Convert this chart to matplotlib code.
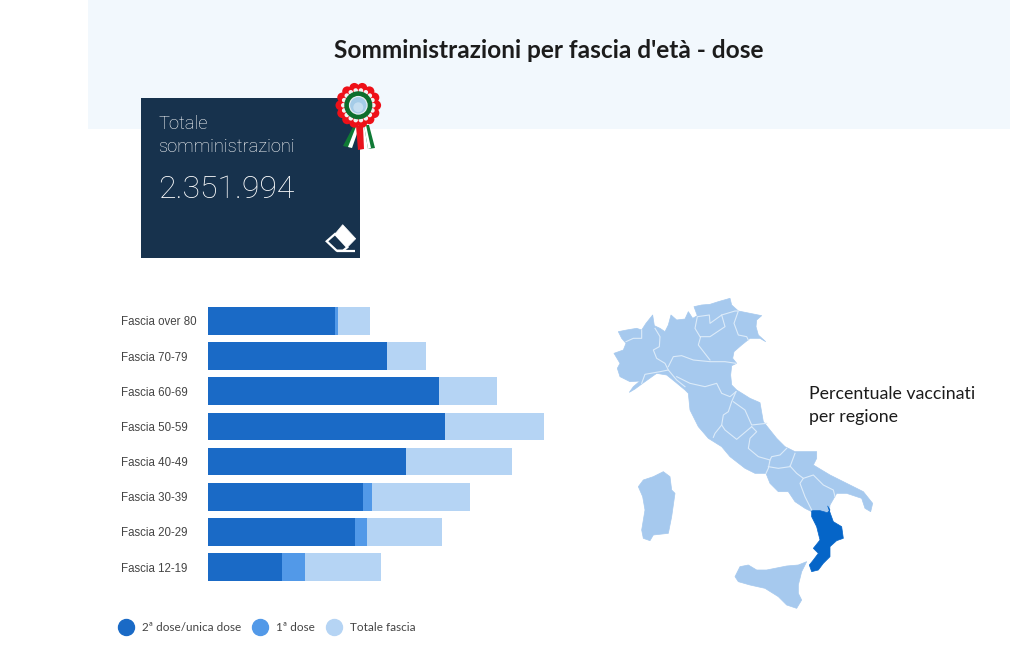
import matplotlib
matplotlib.use("Agg")
import matplotlib.pyplot as plt
import numpy as np
from matplotlib.lines import Line2D
from matplotlib.patches import Circle, Polygon, Rectangle

W, H = 1024, 664

fasce = ['Fascia over 80', 'Fascia 70-79', 'Fascia 60-69', 'Fascia 50-59',
         'Fascia 40-49', 'Fascia 30-39', 'Fascia 20-29', 'Fascia 12-19']
# bar lengths
dose2 = [127, 179, 230.5, 236.5, 198, 155, 147, 74]
dose1 = [3, 0, 0.5, 0.5, 0, 9, 11.5, 23]
totale = [162, 217.5, 289, 336, 304, 261.5, 233.5, 172.5]

legend_labels = ['2ª dose/unica dose', '1ª dose', 'Totale fascia']
titolo = "Somministrazioni per fascia d'età - dose"
card_label = 'Totale\nsomministrazioni'
card_value = '2.351.994'
map_label = 'Percentuale vaccinati\nper regione'

c_dark = '#1a6ac6'
c_mid = '#5299e8'
c_light = '#b5d4f4'
c_map = '#a6c9ee'
c_cal = '#0565c8'
c_card = '#17324d'
c_band = '#f2f8fd'
txt = '#1c1c1c'

# outlines, in crop coordinates
italia = [(55,125),(80,120),(110,115),(125,120),(138,100),(150,85),(158,75),(163,107),(180,115),(195,125),
          (205,105),(213,75),(230,90),(255,87),(265,65),(278,85),(292,77),(282,50),(305,45),(330,43),(355,35),
          (390,25),(395,45),(415,63),(450,70),(485,77),(470,90),(468,110),(475,135),(497,155),(480,145),
          (450,145),(425,165),(402,185),(398,205),(410,220),(395,227),(392,255),(395,285),(410,300),(450,325),
          (480,338),(490,395),(530,445),(555,470),(585,485),(650,485),(650,505),(640,525),(690,555),(750,585),
          (790,605),(818,640),(812,665),(795,655),(785,625),(740,610),(710,610),(690,645),(688,665),(635,665),
          (615,655),(585,635),(565,605),(535,605),(510,580),(498,550),(465,550),(435,535),(390,500),(365,470),
          (325,445),(295,410),(270,360),(265,310),(255,300),(225,275),(200,255),(170,250),(128,280),(105,297),
          (88,307),(100,290),(120,273),(90,275),(60,260),(52,235),(60,220),(42,190),(70,180),(78,160),(65,145)]
calabria = [(683,648),(690,660),(682,668),(660,662),(635,662),(635,680),(650,710),(660,750),(640,775),(655,790),
            (640,810),(628,825),(635,845),(655,840),(670,820),(690,800),(690,770),(710,752),(730,745),(725,710),
            (700,695)]
sicilia = [(405,860),(420,830),(445,825),(470,840),(500,840),(560,828),(595,825),(620,815),(605,845),(595,885),
           (595,910),(605,930),(590,955),(560,945),(535,920),(495,895),(450,885),(415,875)]
sardegna = [(115,590),(130,570),(160,560),(190,545),(210,560),(215,600),(225,610),(215,680),(205,730),(160,735),
            (150,752),(130,745),(125,720),(135,660),(128,620)]
confini = [
    [(78,155),(100,145),(125,145),(125,120)],
    [(165,115),(180,140),(178,170),(160,180),(170,205),(195,220),(205,240)],
    [(205,230),(220,200),(245,197),(280,210),(330,215),(375,215),(408,220)],
    [(125,280),(135,253),(180,245),(205,240),(230,270),(255,290)],
    [(230,260),(270,280),(315,290),(350,280),(365,310),(390,320),(408,305)],
    [(330,210),(295,165),(302,140),(330,140),(375,110),(365,75),(330,100),(328,75),(292,80),(285,115),(300,140)],
    [(365,75),(405,63),(415,63),(402,100),(415,135),(440,140),(445,150)],
    [(400,335),(435,360),(455,405),(500,400)],
    [(408,305),(395,335),(385,365),(370,375),(365,405),(375,420),(410,448),(455,410)],
    [(365,405),(345,430),(340,442)],
    [(455,410),(470,425),(450,445),(445,475),(475,500),(510,510),(505,535),(498,550)],
    [(560,475),(540,495),(515,500),(510,510)],
    [(505,530),(535,535),(570,530),(585,490)],
    [(570,528),(590,550),(610,565),(600,580),(615,620),(635,660)],
    [(610,565),(640,555),(670,585),(700,600),(705,620)],
]

fig = plt.figure(figsize=(W / 100, H / 100), dpi=100, facecolor='white')

def px_axes(x0, y0, x1, y1):
    return fig.add_axes([x0 / W, 1 - y1 / H, (x1 - x0) / W, (y1 - y0) / H])

# page layer, coordinates are pixels
bg = px_axes(0, 0, W, H)
bg.set_xlim(0, W)
bg.set_ylim(H, 0)
bg.axis('off')
bg.add_patch(Rectangle((88, 0), 922, 128.5, fc=c_band, ec='none'))
bg.add_patch(Rectangle((140.5, 98), 219, 160, fc=c_card, ec='none'))

bg.text(548.5, 50, titolo, ha='center', va='center', fontsize=17.6, fontweight='bold',
        family=['Lato', 'DejaVu Sans'], color=txt)
bg.text(158.5, 135.5, card_label, ha='left', va='center', fontsize=13.2, color='white',
        family=['Roboto', 'DejaVu Sans'], fontweight='light', linespacing=1.3)
bg.text(158.5, 190, card_value, ha='left', va='center', fontsize=23, color='white',
        family=['Roboto', 'DejaVu Sans'], fontweight='light')
bg.text(809, 405.5, map_label, ha='left', va='center', fontsize=12.8, color=txt,
        family=['Lato', 'DejaVu Sans'], linespacing=1.52)

# eraser icon
bg.add_patch(Polygon([(342.7,224.7),(355.7,238.7),(347.3,247.3),(335,234)], fc='white', ec='white', lw=0.5))
bg.add_patch(Polygon([(335,234),(347.3,247.3),(343,250.7),(336.7,250.7),(326.7,241.3)], fc='none', ec='white', lw=1.6))
bg.plot([337, 355], [250.7, 250.7], color='white', lw=1.6, solid_capstyle='butt')

# cockade
cx, cy = 358.3, 105.3
bg.add_patch(Polygon([(355,123),(360,125),(352,148),(343,146)], fc='#0f7a35', ec='none', zorder=3))
bg.add_patch(Polygon([(357,124),(360,125),(352,148),(348,147)], fc='white', ec='none', zorder=3))
bg.add_patch(Polygon([(356,126),(363,126),(364,149),(358,150)], fc='#e8141c', ec='none', zorder=3))
bg.add_patch(Polygon([(364,125),(369,125),(375,148),(368,149)], fc='#0f7a35', ec='none', zorder=3))
bg.add_patch(Polygon([(364,125),(366,125),(371,148),(368,149)], fc='white', ec='none', zorder=3))
for a in np.arange(0, 2 * np.pi, 2 * np.pi / 14):
    bg.add_patch(Circle((cx + 17.8 * np.cos(a), cy + 17.8 * np.sin(a)), 5, fc='#ee1018', ec='none', zorder=4))
bg.add_patch(Circle((cx, cy), 19, fc='#ee1018', ec='none', zorder=4))
for a in np.arange(0, 2 * np.pi, 2 * np.pi / 18):
    bg.add_patch(Circle((cx + 15 * np.cos(a), cy + 15 * np.sin(a)), 2.3, fc='#f2f2f2', ec='none', zorder=5))
bg.add_patch(Circle((cx, cy), 14, fc='#0d6e2c', ec='none', zorder=6))
bg.add_patch(Circle((cx, cy), 9.4, fc='#e6edf2', ec='none', zorder=7))
bg.add_patch(Circle((cx, cy), 8.2, fc='#a5cce8', ec='none', zorder=8))
bg.add_patch(Circle((cx, cy + 2), 5, fc='#c5def0', ec='none', zorder=9))

# bars
ax = px_axes(208, 302, 544, 586)
y = np.arange(len(fasce))
d2 = np.array(dose2)
d1 = np.array(dose1)
ax.barh(y, totale, height=0.785, color=c_light)
ax.barh(y, d2 + d1, height=0.785, color=c_mid)
ax.barh(y, d2, height=0.785, color=c_dark)
ax.set_xlim(0, 336)
ax.set_ylim(len(fasce) - 0.46, -0.54)
ax.set_yticks(y)
ax.set_yticklabels(fasce, family=['Liberation Sans'], fontsize=8.3, color='#444444', ha='left')
ax.tick_params(axis='y', length=0, pad=62.5)
ax.set_xticks([])
for s in ax.spines.values():
    s.set_visible(False)
ax.patch.set_alpha(0)

# map, coordinates are the crop ones
m = px_axes(600, 290, 890, 620)
m.set_xlim(0, 870)
m.set_ylim(990, 0)
m.axis('off')
for shape in (italia, sicilia, sardegna):
    m.add_patch(Polygon(shape, fc=c_map, ec=c_map, lw=0.5, joinstyle='round'))
m.add_patch(Polygon(calabria, fc=c_cal, ec=c_cal, lw=0.5, joinstyle='round'))
for line in confini:
    xs, ys = zip(*line)
    m.plot(xs, ys, color='#dcebf9', lw=0.8)

handles = [Line2D([], [], ls='none', marker='o', ms=11.5, color=c) for c in (c_dark, c_mid, c_light)]
fig.legend(handles, legend_labels, ncol=3, frameon=False, loc='center left',
           bbox_to_anchor=(114 / W, 1 - 627.5 / H), borderaxespad=0, borderpad=0,
           prop={'family': 'Lato', 'size': 8.5}, labelcolor='#444444',
           handletextpad=0.4, columnspacing=0.55)

fig.savefig('out.png', dpi=100)
